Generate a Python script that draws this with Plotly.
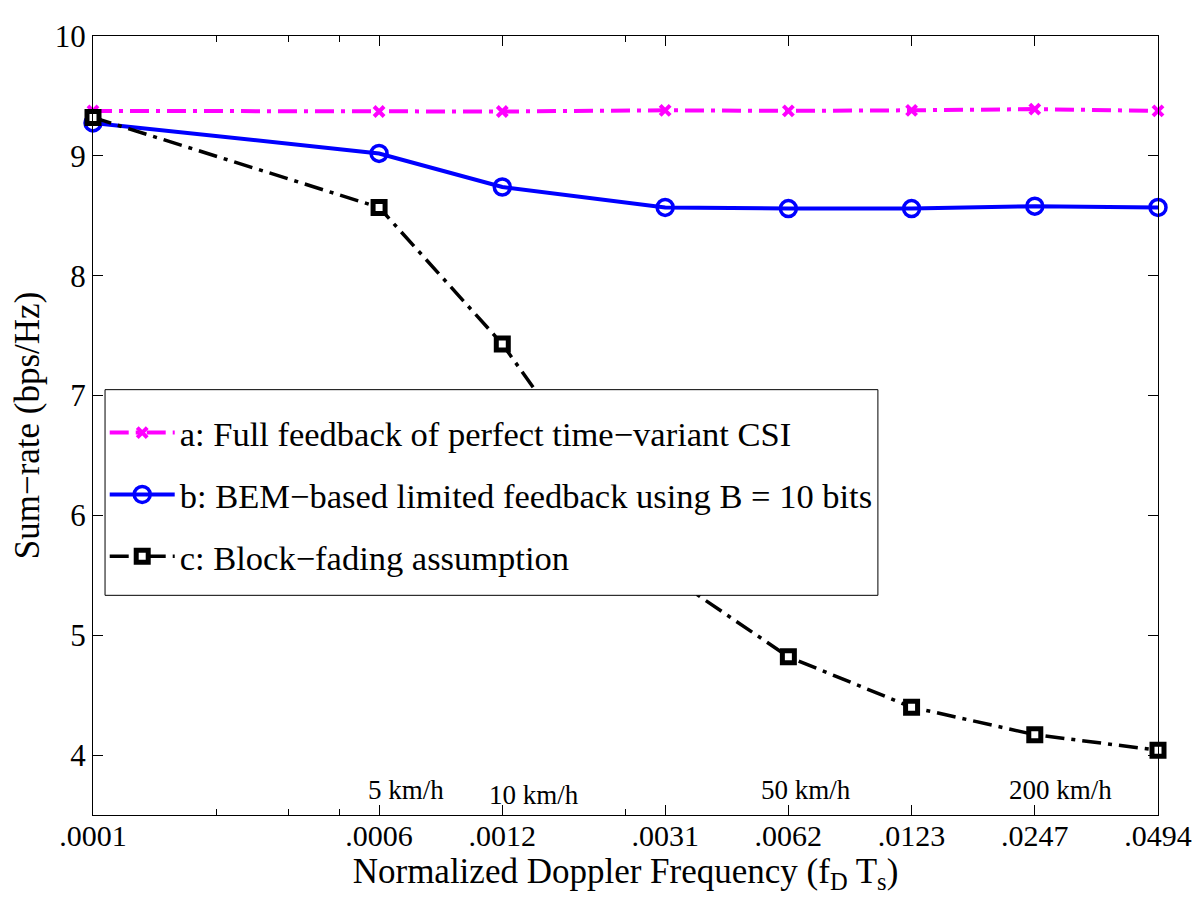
import numpy as np
import plotly.graph_objects as go

# Normalized Doppler frequency (actual positions on log axis) and tick labels
doppler = [1e-4, 5e-4, 1e-3, 2.5e-3, 5e-3, 1e-2, 2e-2, 4e-2]
tick_labels = ['.0001', '.0006', '.0012', '.0031', '.0062', '.0123', '.0247', '.0494']
minor_ticks = [2e-4, 3e-4, 4e-4, 2e-3]

rate_full = [9.375, 9.37, 9.37, 9.38, 9.375, 9.38, 9.39, 9.375]
rate_bem = [9.275, 9.02, 8.74, 8.57, 8.56, 8.56, 8.58, 8.57]
rate_block = [9.32, 8.57, 7.43, 5.52, 4.82, 4.40, 4.17, 4.04]

speed_labels = ['5 km/h', '10 km/h', '50 km/h', '200 km/h']
speed_pos = [5e-4, 1e-3, 5e-3, 2e-2]
speed_y = [3.71, 3.665, 3.71, 3.71]
speed_shift = [27, 32, 18, 26]

names = ['a: Full feedback of perfect time\u2212variant CSI',
         'b: BEM\u2212based limited feedback using B = 10 bits',
         'c: Block\u2212fading assumption']

FONT = 'Liberation Serif'
DASHDOT = '19px,7px,4px,7px'
fig = go.Figure()
fig.add_trace(go.Scatter(x=doppler, y=rate_full, mode='lines+markers', name=names[0],
                         legendgroup='a', cliponaxis=False,
                         line=dict(color='#ff00ff', width=4, dash=DASHDOT),
                         marker=dict(symbol='x-thin-open', size=10,
                                     line=dict(color='#ff00ff', width=4), color='#ff00ff')))
fig.add_trace(go.Scatter(x=doppler, y=rate_bem, mode='lines+markers', name=names[1],
                         legendgroup='b', cliponaxis=False,
                         line=dict(color='#0000ff', width=4),
                         marker=dict(symbol='circle-open', size=16,
                                     line=dict(color='#0000ff', width=3.5))))
fig.add_trace(go.Scatter(x=doppler, y=rate_block, mode='lines+markers', name=names[2],
                         legendgroup='c', cliponaxis=False,
                         line=dict(color='black', width=3.5, dash=DASHDOT),
                         marker=dict(symbol='square', size=12, color='white',
                                     line=dict(color='black', width=5))))

for lab, pos, yy, sh in zip(speed_labels, speed_pos, speed_y, speed_shift):
    fig.add_annotation(x=np.log10(pos), y=yy, xref='x', yref='y', text=lab,
                       showarrow=False, font=dict(family=FONT, size=27, color='black'),
                       xanchor='center', yanchor='middle', xshift=sh)

# legend frame (drawn as a box above the traces; legend text sits on top)
fig.add_shape(type='rect', xref='paper', yref='paper',
              x0=0.0113, x1=0.737, y0=0.282, y1=0.546,
              fillcolor='white', line=dict(color='black', width=1), layer='above')

fig.update_xaxes(type='log', range=[np.log10(1e-4), np.log10(4e-2)], automargin=False,
                 tickmode='array', tickvals=doppler, ticktext=tick_labels,
                 ticks='inside', ticklen=10, tickcolor='black', tickwidth=1,
                 ticklabelstandoff=-6,
                 showline=True, linecolor='black', linewidth=1, mirror='ticks',
                 showgrid=False, zeroline=False,
                 tickfont=dict(family=FONT, size=30, color='black'),
                 minor=dict(tickmode='array', tickvals=minor_ticks, ticks='inside',
                            ticklen=6, tickcolor='black', showgrid=False),
                 title=dict(text='Normalized Doppler Frequency (f<sub>D</sub> T<sub>s</sub>)',
                            font=dict(family=FONT, size=35, color='black'), standoff=0))
fig.update_yaxes(range=[3.5, 10], tickmode='array', tickvals=[4, 5, 6, 7, 8, 9, 10],
                 automargin=False,
                 ticks='inside', ticklen=10, tickcolor='black', tickwidth=1,
                 showline=True, linecolor='black', linewidth=1, mirror='ticks',
                 showgrid=False, zeroline=False,
                 tickfont=dict(family=FONT, size=31, color='black'),
                 title=dict(text='Sum\u2212rate (bps/Hz)',
                            font=dict(family=FONT, size=35, color='black'), standoff=8))

fig.update_layout(width=1200, height=911, plot_bgcolor='white', paper_bgcolor='white',
                  margin=dict(l=85, r=50, t=28, b=104),
                  font=dict(family=FONT, color='black'),
                  legend=dict(x=0.011, y=0.528, xanchor='left', yanchor='top',
                              bgcolor='rgba(0,0,0,0)', borderwidth=0,
                              font=dict(family=FONT, size=34.5, color='black'),
                              tracegroupgap=14, traceorder='grouped',
                              itemwidth=65))

fig.write_html('out.html')
